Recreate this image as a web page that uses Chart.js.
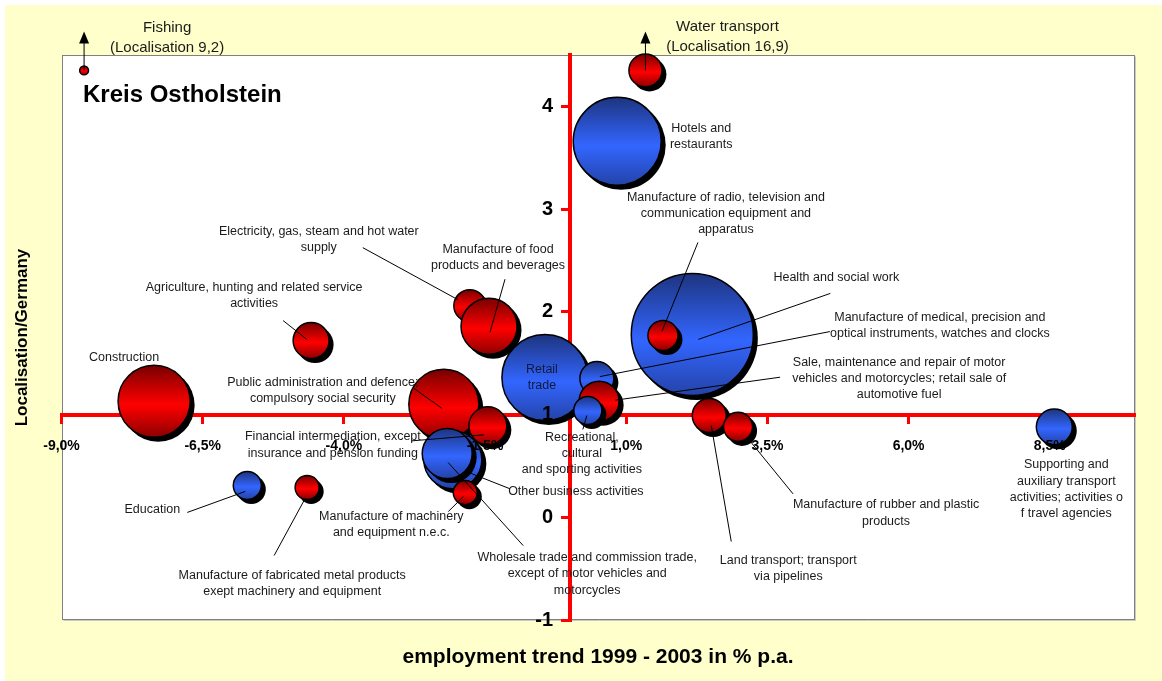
<!DOCTYPE html>
<html>
<head>
<meta charset="utf-8">
<title>Kreis Ostholstein</title>
<script src="https://cdn.jsdelivr.net/npm/chart.js@4.4.1/dist/chart.umd.min.js"></script>
<style>
    html, body { margin: 0; padding: 0; background: #ffffff; }
    canvas { display: block; }
</style>
</head>
<body>
<canvas id="bubbleCanvas" width="1162" height="681"></canvas>
<script>
'use strict';

//sectors, one entry per label line
const sectors = [
    ['Health and social work'],
    ['Manufacture of radio, television and', 'communication equipment and', 'apparatus'],
    ['Hotels and', 'restaurants'],
    ['Water transport'],
    ['Fishing'],
    ['Construction'],
    ['Agriculture, hunting and related service', 'activities'],
    ['Electricity, gas, steam and hot water', 'supply'],
    ['Manufacture of food', 'products and beverages'],
    ['Public administration and defence;', 'compulsory social security'],
    ['Financial intermediation, except', 'insurance and pension funding'],
    ['Other business activities'],
    ['Wholesale trade and commission trade,', 'except of motor vehicles and', 'motorcycles'],
    ['Manufacture of machinery', 'and equipment n.e.c.'],
    ['Education'],
    ['Manufacture of fabricated metal products', 'exept machinery and equipment'],
    ['Retail', 'trade'],
    ['Manufacture of medical, precision and', 'optical instruments, watches and clocks'],
    ['Sale, maintenance and repair of motor', 'vehicles and motorcycles; retail sale of', 'automotive fuel'],
    ['Recreational,', 'cultural', 'and sporting activities'],
    ['Land transport; transport', 'via pipelines'],
    ['Manufacture of rubber and plastic', 'products'],
    ['Supporting and', 'auxiliary transport', 'activities; activities o', 'f travel agencies']
];

//employment trend 1999 - 2003 in % p.a.
const trend = [2.17, 1.65, 0.84, 1.34, -8.6, -7.36, -4.58, -1.77, -1.43, -2.23, -1.45, -2.07, -2.17, -1.85, -5.71, -4.65, -0.44, 0.48, 0.52, 0.32, 2.47, 2.98, 8.58];
//localisation Ostholstein / Germany
const localisation = [1.78, 1.77, 3.66, 16.9, 9.2, 1.13, 1.72, 2.06, 1.86, 1.10, 0.89, 0.56, 0.62, 0.24, 0.31, 0.29, 1.36, 1.35, 1.13, 1.04, 0.99, 0.88, 0.88];
//employees, gives the bubble size
const employees = [7600, 460, 3950, 555, 40, 2650, 660, 520, 1600, 2500, 735, 1715, 1275, 295, 400, 295, 3775, 590, 815, 400, 590, 430, 660];
//1 = red series, 2 = blue series
const series = [2, 1, 2, 1, 1, 1, 1, 1, 1, 1, 1, 2, 2, 1, 2, 1, 2, 2, 1, 2, 1, 1, 2];

const xTicks = [-9, -6.5, -4, -1.5, 1, 3.5, 6, 8.5];
const yTicks = [-1, 0, 1, 2, 3, 4];

//values above this are drawn at the top with an arrow
const yCap = 4.35;

//label placement, pixels from the bubble centre (lead = leader line label end -> bubble end)
const labelSpots = [
    {dx: 144, dy: -57, lead: [138, -41, 6, 5]},
    {dx: 63, dy: -138, lead: [35, -93, -1, -4]},
    {dx: 84, dy: -13},
    {dx: 82, dy: -44},
    {dx: 83, dy: -43},
    {dx: -30, dy: -44},
    {dx: -57, dy: -53, lead: [-28, -20, -4, -1]},
    {dx: -151, dy: -74, lead: [-107, -58, -12, -6]},
    {dx: 9, dy: -77, lead: [16, -47, 1, 6]},
    {dx: -121, dy: -22, lead: [-30, -16, -2, 4]},
    {dx: -155, dy: 11, lead: [-76, 15, -4, 9]},
    {dx: 123, dy: 32, lead: [57, 29, 14, 12]},
    {dx: 140, dy: 104, lead: [76, 92, 1, 9]},
    {dx: -74, dy: 24, lead: [-17, 19, -2, 4]},
    {dx: -95, dy: 24, lead: [-60, 27, -2, 6]},
    {dx: -15, dy: 88, lead: [-33, 68, -2, 11]},
    {dx: -3, dy: -8, inside: true},
    {dx: 343, dy: -61, lead: [233, -47, 3, -2]},
    {dx: 300, dy: -39, lead: [181, -24, 16, -1]},
    {dx: -6, dy: 27, lead: [-5, 19, -1, 5]},
    {dx: 79, dy: 145, lead: [22, 126, 2, 10]},
    {dx: 148, dy: 78, lead: [55, 67, 11, 13]},
    {dx: 12, dy: 38}
];

const FONT = "'Liberation Sans', Arial, sans-serif";
Chart.defaults.font.family = FONT;

//gradient fill like the excel bubbles
function bubbleFill(c) {
    const flat = series[c.dataIndex] === 1 ? '#ff0000' : '#3366ff';
    const yScale = c.chart.scales.y;
    if (c.type !== 'data' || !c.raw || !yScale) {
        return flat;
    }
    const cy = yScale.getPixelForValue(c.raw.y);
    const r = c.raw.r;
    if (!isFinite(cy) || !isFinite(r)) {
        return flat;
    }
    const g = c.chart.ctx.createLinearGradient(0, cy - r, 0, cy + r);
    if (series[c.dataIndex] === 1) {
        g.addColorStop(0, '#780000');
        g.addColorStop(0.55, '#ff0000');
        g.addColorStop(1, '#8c0000');
    } else {
        g.addColorStop(0, '#1d347f');
        g.addColorStop(0.55, '#3366ff');
        g.addColorStop(1, '#2443a8');
    }
    return g;
}

//yellow paper, white plot area
const paper = {
    id: 'paper',
    beforeDraw(chart) {
        const ctx = chart.ctx;
        const a = chart.chartArea;
        const l = Math.round(a.left) + 0.5;
        const t = Math.round(a.top) + 0.5;
        const r = Math.round(a.right) - 0.5;
        const b = Math.round(a.bottom) - 0.5;
        ctx.save();
        ctx.fillStyle = '#ffffff';
        ctx.fillRect(0, 0, chart.width, chart.height);
        ctx.fillStyle = '#ffffcc';
        ctx.fillRect(5, 5, chart.width - 5, chart.height - 5);
        ctx.fillStyle = '#ffffff';
        ctx.fillRect(l, t, r - l, b - t);
        ctx.lineWidth = 1;
        ctx.strokeStyle = '#c8c8c8';
        ctx.beginPath();
        ctx.moveTo(l + 1, b + 1);
        ctx.lineTo(r + 1, b + 1);
        ctx.lineTo(r + 1, t + 1);
        ctx.stroke();
        ctx.strokeStyle = '#808080';
        ctx.strokeRect(l, t, r - l, b - t);
        ctx.restore();
    }
};

//every bubble gets its own black shadow before it is drawn
const shadowedBubbles = {
    id: 'shadowedBubbles',
    beforeDatasetDraw(chart, args) {
        const ctx = chart.ctx;
        args.meta.data.forEach(function (el) {
            const r = el.options.radius;
            if (r >= 8) {
                ctx.save();
                ctx.fillStyle = '#000000';
                ctx.beginPath();
                ctx.arc(el.x + 4, el.y + 4, r + 0.5, 0, Math.PI * 2);
                ctx.fill();
                ctx.restore();
            }
            el.draw(ctx, chart.chartArea);
        });
        return false;
    }
};

//sector names, leader lines, arrows and the region name
const sectorNotes = {
    id: 'sectorNotes',
    afterDatasetsDraw(chart) {
        const ctx = chart.ctx;
        const a = chart.chartArea;
        const pts = chart.getDatasetMeta(0).data;
        ctx.save();
        ctx.lineWidth = 1;
        ctx.strokeStyle = '#000000';
        pts.forEach(function (el, i) {
            const spot = labelSpots[i];
            const lines = sectors[i].slice();
            let size = 12.5;
            let gap = 16.3;
            if (localisation[i] > yCap) {
                lines.push('(Localisation ' + String(localisation[i]).replace('.', ',') + ')');
                size = 15;
                gap = 20;
                ctx.fillStyle = '#000000';
                ctx.beginPath();
                ctx.moveTo(el.x, el.y);
                ctx.lineTo(el.x, el.y - 28);
                ctx.stroke();
                ctx.beginPath();
                ctx.moveTo(el.x, el.y - 39);
                ctx.lineTo(el.x - 5, el.y - 27);
                ctx.lineTo(el.x + 5, el.y - 27);
                ctx.closePath();
                ctx.fill();
            }
            if (spot.lead) {
                ctx.beginPath();
                ctx.moveTo(el.x + spot.lead[0], el.y + spot.lead[1]);
                ctx.lineTo(el.x + spot.lead[2], el.y + spot.lead[3]);
                ctx.stroke();
            }
            if (spot.inside) {
                gap = 15.7;
                ctx.fillStyle = '#111a3a';
            } else {
                ctx.fillStyle = '#1a1a1a';
            }
            ctx.font = size + 'px ' + FONT;
            ctx.textAlign = 'center';
            ctx.textBaseline = 'middle';
            for (let k = 0; k < lines.length; k++) {
                ctx.fillText(lines[k], el.x + spot.dx, el.y + spot.dy + k * gap);
            }
        });
        ctx.fillStyle = '#000000';
        ctx.font = 'bold 24px ' + FONT;
        ctx.textAlign = 'left';
        ctx.textBaseline = 'middle';
        ctx.fillText('Kreis Ostholstein', a.left + 21.5, a.top + 40);
        ctx.restore();
    }
};

const redAxis = {
    color: '#ff0000',
    width: 4
};
const redTicks = {
    drawOnChartArea: false,
    color: '#ff0000',
    lineWidth: 3,
    tickLength: 7
};

const canvas = document.getElementById('bubbleCanvas');
const context = canvas.getContext('2d');

const chart = new Chart(
    context,
    {
        type: 'bubble',
        data: {
            datasets: [
                {
                    label: 'Kreis Ostholstein',
                    data: trend.map(function (x, i) {
                        return {x: x, y: Math.min(localisation[i], yCap), r: 0.7 * Math.sqrt(employees[i])};
                    }),
                    backgroundColor: bubbleFill,
                    borderColor: '#000000',
                    borderWidth: 1.5
                }
            ]
        },
        options: {
            responsive: false,
            animation: false,
            events: [],
            layout: {
                autoPadding: false,
                padding: {left: 5, top: 55, right: 27.5, bottom: 10.8}
            },
            scales: {
                x: {
                    type: 'linear',
                    min: -9,
                    max: 10,
                    position: {y: 1},
                    afterBuildTicks: function (axis) {
                        axis.ticks = xTicks.map(function (v) { return {value: v}; });
                    },
                    ticks: {
                        z: 1,
                        padding: 16,
                        color: '#000000',
                        autoSkip: false,
                        maxRotation: 0,
                        font: {size: 14, weight: 'bold'},
                        callback: function (v) {
                            return v.toFixed(1).replace('.', ',') + '%';
                        }
                    },
                    grid: redTicks,
                    border: redAxis
                },
                y: {
                    type: 'linear',
                    min: -1,
                    max: 4.5,
                    position: {x: 0},
                    afterBuildTicks: function (axis) {
                        axis.ticks = yTicks.map(function (v) { return {value: v}; });
                    },
                    ticks: {
                        z: 1,
                        color: '#000000',
                        font: {size: 20, weight: 'bold'},
                        //a centred axis ignores padding, the spaces keep the number off the red line
                        callback: function (v) {
                            return String(v) + '   ';
                        }
                    },
                    grid: redTicks,
                    border: redAxis
                }
            },
            plugins: {
                legend: {display: false},
                tooltip: {enabled: false},
                title: {
                    display: true,
                    text: 'employment trend 1999 - 2003 in % p.a.',
                    position: 'bottom',
                    fullSize: false,
                    color: '#000000',
                    font: {size: 21, weight: 'bold'},
                    padding: {top: 25, bottom: 0}
                },
                subtitle: {
                    display: true,
                    text: 'Localisation/Germany',
                    position: 'left',
                    fullSize: false,
                    color: '#000000',
                    font: {size: 17, weight: 'bold'},
                    padding: {top: 7, bottom: 29.1}
                }
            }
        },
        plugins: [paper, shadowedBubbles, sectorNotes]
    }
);
</script>
</body>
</html>
